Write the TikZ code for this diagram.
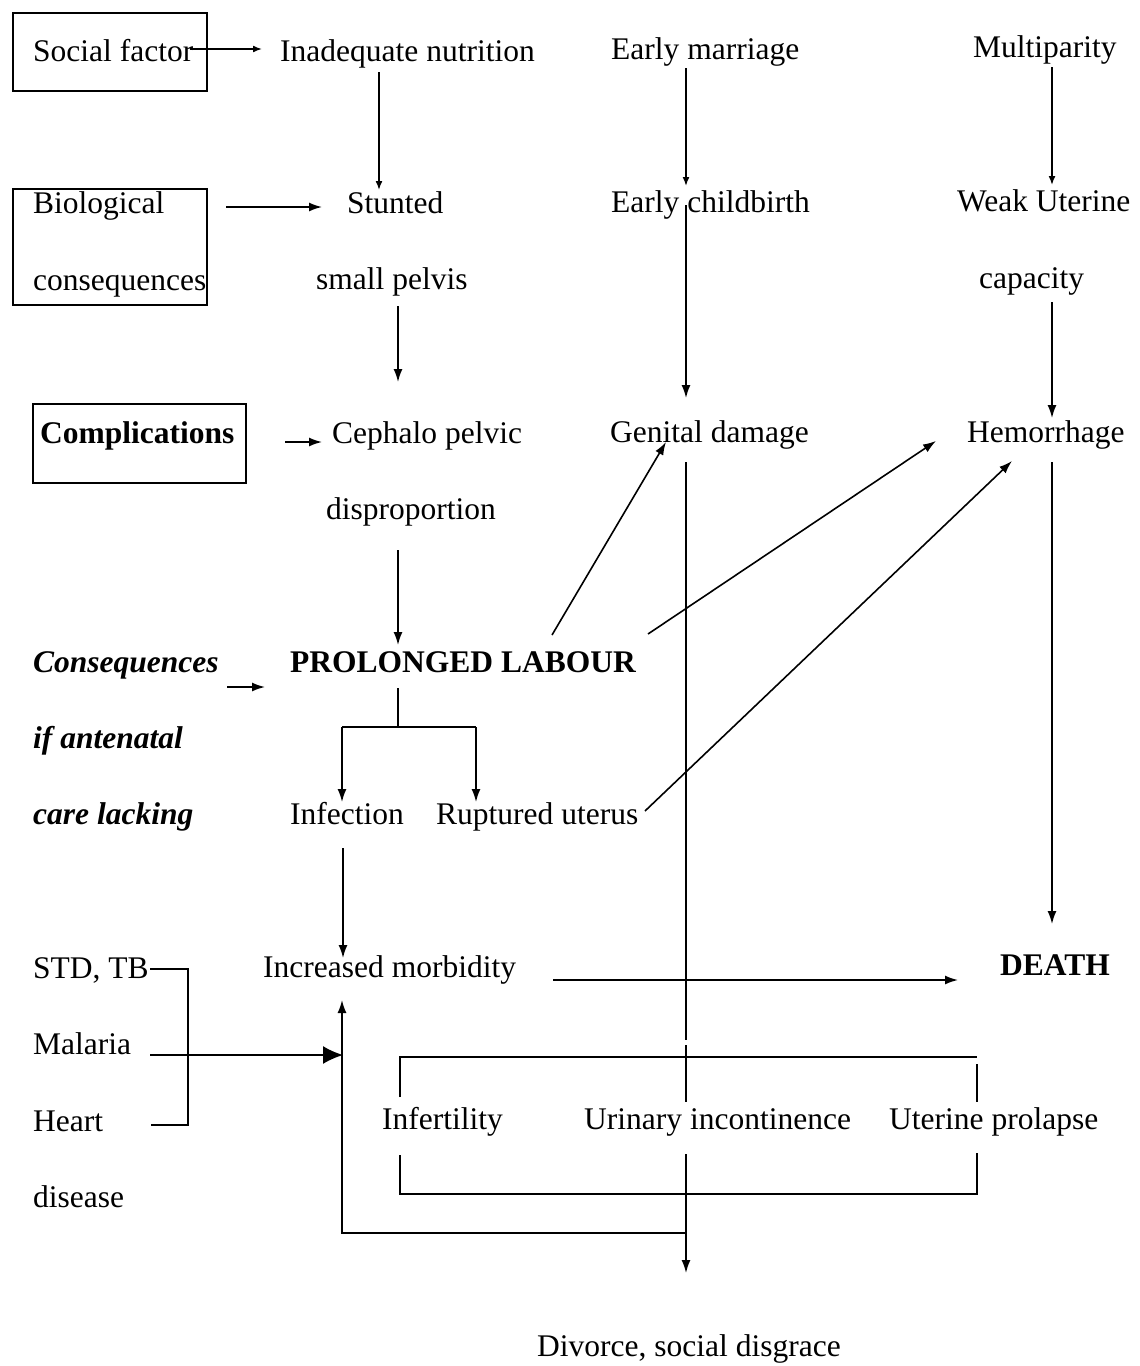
\documentclass[tikz,border=0pt]{standalone}
\usepackage{fontspec}
\setmainfont{Liberation Serif}
\usetikzlibrary{arrows.meta}
\begin{document}
\begin{tikzpicture}[x=1pt,y=-1pt,
  txt/.style={anchor=base west, inner sep=0pt, font=\fontsize{31.5}{36}\selectfont},
  btxt/.style={txt, font=\fontsize{31.5}{36}\selectfont\bfseries},
  bitxt/.style={txt, font=\fontsize{31.5}{36}\selectfont\bfseries\itshape},
  frame/.style={draw, line width=1.6pt, anchor=north west, inner sep=0pt},
  ln/.style={line width=1.6pt},
  arr/.style={ln, -{Latex[length=13pt,width=9pt]}},
  sarr/.style={ln, -{Latex[length=9pt,width=7pt]}},
  barr/.style={ln, -{Latex[length=20pt,width=18pt]}}]
\useasboundingbox (0,0) rectangle (1140,1366);

% boxes
\node[frame, minimum width=194pt, minimum height=78pt] (socbox) at (12,12) {};
\node[frame, minimum width=194pt, minimum height=116pt] (biobox) at (12,188) {};
\node[frame, minimum width=213pt, minimum height=79pt] (compbox) at (32,403) {};

% texts
\node[txt] (soc) at (33,61) {Social factor};
\node[txt] (nutr) at (280,61) {Inadequate nutrition};
\node[txt] (marr) at (611,59) {Early marriage};
\node[txt] (multi) at (973,57) {Multiparity};
\node[txt] (bio) at (33,213) {Biological};
\node[txt] (bio2) at (33,290) {consequences};
\node[txt] (stunt) at (347,213) {Stunted};
\node[txt] (child) at (611,212) {Early childbirth};
\node[txt] (weak) at (957,211) {Weak Uterine};
\node[txt] (pelvis) at (316,289) {small pelvis};
\node[txt] (capac) at (979,288) {capacity};
\node[btxt] (compl) at (40,443) {Complications};
\node[txt] (ceph) at (332,443) {Cephalo pelvic};
\node[txt] (genit) at (610,442) {Genital damage};
\node[txt] (hem) at (967,442) {Hemorrhage};
\node[txt] (disp) at (326,519) {disproportion};
\node[bitxt] (cons) at (33,672) {Consequences};
\node[btxt] (prol) at (290,672) {PROLONGED LABOUR};
\node[bitxt] (ifant) at (33,748) {if antenatal};
\node[bitxt] (care) at (33,824) {care lacking};
\node[txt] (inf) at (290,824) {Infection};
\node[txt] (rupt) at (436,824) {Ruptured uterus};
\node[txt] (std) at (33,978) {STD, TB};
\node[txt] (morb) at (263,977) {Increased morbidity};
\node[btxt] (death) at (1000,975) {DEATH};
\node[txt] (mal) at (33,1054) {Malaria};
\node[txt] (heart) at (33,1131) {Heart};
\node[txt] (dis) at (33,1207) {disease};
\node[txt] (infert) at (382,1129) {Infertility};
\node[txt] (urin) at (584,1129) {Urinary incontinence};
\node[txt] (uter) at (889,1129) {Uterine prolapse};
\node[txt] (div) at (537,1356) {Divorce, social disgrace};

% connector end points
\coordinate (a1s) at (190,49);  \coordinate (a1e) at (262,49);
\coordinate (a2s) at (379,72);  \coordinate (a2e) at (379,190);
\coordinate (a3s) at (226,207); \coordinate (a3e) at (322,207);
\coordinate (a4s) at (398,306); \coordinate (a4e) at (398,382);
\coordinate (a5s) at (686,68);  \coordinate (a5e) at (686,186);
\coordinate (a6s) at (686,205); \coordinate (a6e) at (686,398);
\coordinate (a7s) at (1052,67); \coordinate (a7e) at (1052,185);
\coordinate (a8s) at (1052,302);\coordinate (a8e) at (1052,418);
\coordinate (a9s) at (285,442); \coordinate (a9e) at (322,442);
\coordinate (a10s) at (398,550);\coordinate (a10e) at (398,645);
\coordinate (a11s) at (227,687);\coordinate (a11e) at (265,687);
\coordinate (t0) at (398,688); \coordinate (t1) at (398,727);
\coordinate (tl) at (342,727); \coordinate (tr) at (476,727);
\coordinate (tle) at (342,802); \coordinate (tre) at (476,802);
\coordinate (a13s) at (343,848); \coordinate (a13e) at (343,958);
\coordinate (d1s) at (552,635); \coordinate (d1e) at (666,442);
\coordinate (d2s) at (648,634); \coordinate (d2e) at (936,441);
\coordinate (d3s) at (645,811); \coordinate (d3e) at (1012,461);
\coordinate (a17s) at (1052,462); \coordinate (a17e) at (1052,924);
\coordinate (a18s) at (553,980); \coordinate (a18e) at (958,980);
\coordinate (g1) at (686,462); \coordinate (g2) at (686,1040);
\coordinate (g3) at (686,1045); \coordinate (g4) at (686,1102);
\coordinate (g5) at (686,1154); \coordinate (g6) at (686,1273);
\coordinate (b1) at (150,969); \coordinate (b2) at (188,969);
\coordinate (b3) at (188,1125); \coordinate (b4) at (151,1125);
\coordinate (m1) at (150,1055); \coordinate (m2) at (343,1055);
\coordinate (r1) at (686,1233); \coordinate (r2) at (342,1233);
\coordinate (r3) at (342,1000);
\coordinate (k1) at (400,1097); \coordinate (k2) at (400,1057);
\coordinate (k3) at (977,1057); \coordinate (k4) at (977,1064);
\coordinate (k5) at (977,1102);
\coordinate (k6) at (400,1155); \coordinate (k7) at (400,1194);
\coordinate (k8) at (977,1194); \coordinate (k9) at (977,1153);

% connectors
\draw[sarr] (a1s) -- (a1e);
\draw[sarr] (a2s) -- (a2e);
\draw[arr] (a3s) -- (a3e);
\draw[arr] (a4s) -- (a4e);
\draw[sarr] (a5s) -- (a5e);
\draw[arr] (a6s) -- (a6e);
\draw[sarr] (a7s) -- (a7e);
\draw[arr] (a8s) -- (a8e);
\draw[arr] (a9s) -- (a9e);
\draw[arr] (a10s) -- (a10e);
\draw[arr] (a11s) -- (a11e);
\draw[ln] (t0) -- (t1);
\draw[ln] (tl) -- (tr);
\draw[arr] (tl) -- (tle);
\draw[arr] (tr) -- (tre);
\draw[arr] (a13s) -- (a13e);
\draw[arr] (d1s) -- (d1e);
\draw[arr] (d2s) -- (d2e);
\draw[arr] (d3s) -- (d3e);
\draw[arr] (a17s) -- (a17e);
\draw[arr] (a18s) -- (a18e);
\draw[ln] (g1) -- (g2);
\draw[ln] (g3) -- (g4);
\draw[arr] (g5) -- (g6);
\draw[ln] (b1) -- (b2) -- (b3) -- (b4);
\draw[barr] (m1) -- (m2);
\draw[arr] (r1) -- (r2) -- (r3);
\draw[ln] (k1) -- (k2) -- (k3);
\draw[ln] (k4) -- (k5);
\draw[ln] (k6) -- (k7) -- (k8) -- (k9);
\end{tikzpicture}
\end{document}
